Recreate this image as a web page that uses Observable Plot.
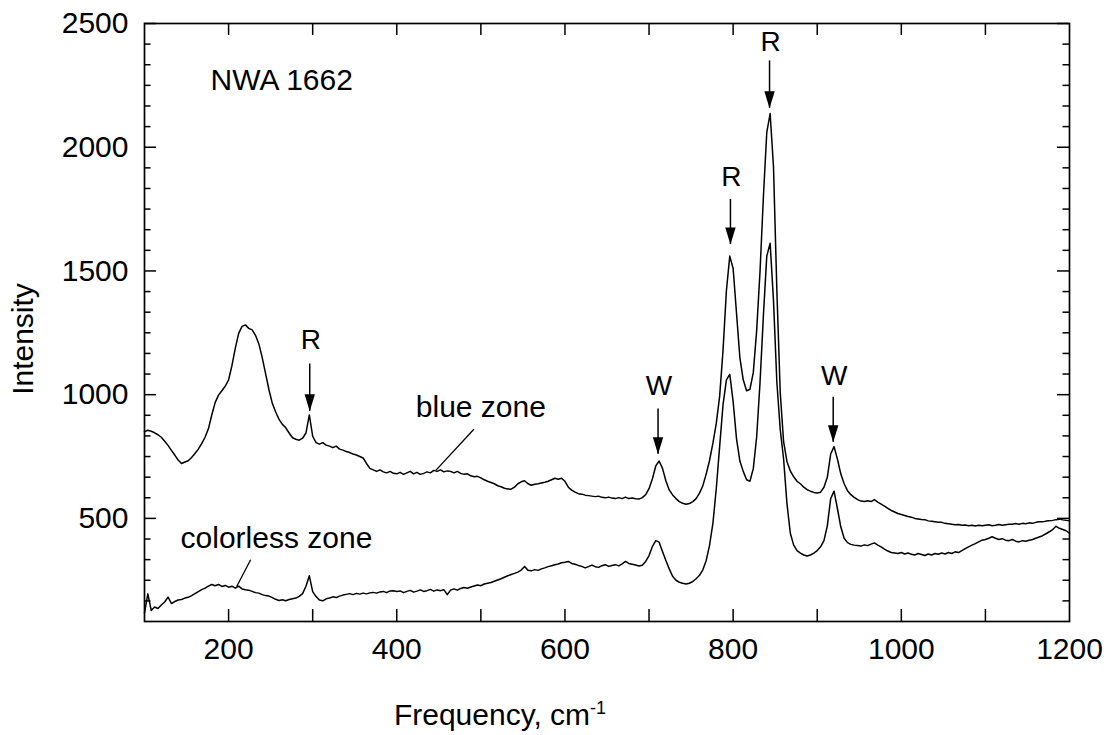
<!DOCTYPE html>
<html><head><meta charset="utf-8">
<script src="https://cdn.jsdelivr.net/npm/d3@7"></script>
<script src="https://cdn.jsdelivr.net/npm/@observablehq/plot@0.6"></script>
<style>body{margin:0;background:#fff}#chart{width:1115px;height:735px}</style>
</head><body><div id="chart"></div>
<script>
const freqStart = 100, freqEnd = 1200, freqStep = 4;
const blueZone = [
  850,856,852,846,838,828,812,795,775,756,736,722,728,733,746,762,780,802,828,862,918,968,998,1016,1034,
  1060,1118,1188,1248,1276,1282,1268,1262,1240,1205,1150,1085,1020,965,930,900,880,866,845,826,820,816,824,845,918,
  832,806,800,806,796,792,786,792,780,776,770,766,760,756,750,744,722,702,696,690,696,688,684,690,682,
  680,686,678,684,690,680,686,678,682,688,684,694,690,696,688,692,690,684,690,682,678,680,672,668,670,
  664,656,650,645,640,632,628,622,619,618,626,640,648,652,640,634,638,640,643,646,650,656,662,658,662,
  650,626,614,606,600,598,594,592,590,588,590,585,583,586,582,580,584,580,586,580,582,579,578,584,596,
  620,660,712,732,702,652,615,595,580,568,561,557,560,568,580,602,632,680,735,805,885,995,1180,1420,1560,
  1510,1330,1150,1060,1016,1022,1090,1260,1500,1800,2060,2136,1920,1420,1010,810,730,692,668,650,640,626,616,610,605,
  603,606,626,666,760,790,740,680,640,612,596,585,576,570,568,571,568,576,566,558,550,541,532,526,520,
  516,512,508,505,500,498,496,495,490,488,486,484,484,480,478,476,474,475,472,473,470,472,469,472,470,
  472,474,470,472,475,472,474,476,476,479,476,480,478,482,480,484,486,486,489,490,492,495,497,494,492,
  490
];
const colorlessZone = [
  118,195,128,142,136,150,162,182,156,164,170,172,178,181,188,196,204,212,218,226,233,228,233,225,229,
  222,226,218,226,215,212,210,205,200,198,192,188,186,180,173,168,171,167,172,175,178,185,196,226,268,
  204,184,170,167,175,178,183,180,186,190,193,196,192,197,194,198,195,199,201,198,203,205,200,207,208,
  205,207,200,205,209,202,206,211,205,208,213,206,211,208,212,192,210,215,210,217,221,218,223,227,231,
  228,235,238,241,246,251,256,262,268,273,278,283,291,306,290,288,293,290,296,300,305,309,313,316,321,
  323,326,318,315,310,306,300,305,311,305,302,309,313,306,310,313,308,316,326,318,315,312,308,311,326,
  350,386,410,404,366,330,296,266,250,242,238,235,238,245,256,270,292,330,392,482,622,792,960,1060,1082,
  972,822,732,690,656,650,702,830,1050,1320,1560,1612,1380,1050,860,740,560,440,392,370,360,352,348,352,360,
  370,385,410,470,580,610,540,466,420,402,395,392,390,388,393,390,396,401,392,385,376,368,362,360,358,
  362,356,360,355,352,358,354,350,356,352,358,355,360,356,362,358,365,362,370,378,385,392,398,405,412,
  415,420,426,420,415,418,412,410,415,408,405,410,408,412,415,420,425,430,438,446,455,468,460,455,450,
  440
];
const xTickLabels = [200, 400, 600, 800, 1000, 1200];
const xTickMarks = [200, 300, 400, 500, 600, 700, 800, 900, 1000, 1100];
const yTickLabels = [500, 1000, 1500, 2000, 2500];
const yDomain = [83.33, 2500];
const xDomain = [100, 1200];

// Peak annotations (frequency, arrow tip, arrow top, label baseline)
const peakLabels = ["R", "R", "R", "W", "W"];
const peakFreqs  = [296.5, 796.8, 843.3, 710.7, 919];
const peakTips   = [933, 1607, 2158, 759, 808];
const peakTops   = [1124, 1789, 2349, 942, 990];
const peakTextY  = [1185, 1842, 2389, 998, 1039];

const zoneLabels = ["blue zone", "colorless zone"];
const zoneTextX = [422.6, 142.9];
const zoneTextY = [909, 382];
const zoneLeaderFrom = [[491.7, 860], [226.2, 333]];
const zoneLeaderTo = [[446.4, 694], [209.5, 224]];
const sampleName = "NWA 1662";

// build tables
const freqs = d3.range(freqStart, freqEnd + 1, freqStep);
const blueData = freqs.map((f, i) => ({f, v: blueZone[i]}));
const colorlessData = freqs.map((f, i) => ({f, v: colorlessZone[i]}));
const peaks = peakLabels.map((label, i) => ({label, f: peakFreqs[i], tip: peakTips[i], top: peakTops[i], ty: peakTextY[i]}));
const zones = zoneLabels.map((label, i) => ({label, x: zoneTextX[i], y: zoneTextY[i],
  x1: zoneLeaderFrom[i][0], y1: zoneLeaderFrom[i][1], x2: zoneLeaderTo[i][0], y2: zoneLeaderTo[i][1]}));
const yMinor = d3.range(1, 30).filter(i => i % 6 !== 0).map(i => 2500 - i * 500 / 6).filter(v => v > yDomain[0] + 1);

const W = 1115, H = 735, mL = 144, mR = 46, mT = 23, mB = 114;
const innerH = H - mT - mB, innerW = W - mL - mR;

const arrowHead = {
  draw(ctx) { ctx.moveTo(0, 0); ctx.lineTo(-5.2, -17); ctx.lineTo(5.2, -17); ctx.closePath(); }
};

const font = "'Liberation Sans', Arial, Helvetica, sans-serif";
const ident = d => d;
const plain = d => String(d);

const chart = Plot.plot({
  width: W, height: H,
  marginLeft: mL, marginRight: mR, marginTop: mT, marginBottom: mB,
  x: {domain: xDomain, axis: null},
  y: {domain: yDomain, axis: null},
  style: {fontFamily: font, fontSize: "30px", color: "black", background: "white", overflow: "visible"},
  marks: [
    Plot.line(blueData, {x: "f", y: "v", stroke: "black", strokeWidth: 1.5}),
    Plot.line(colorlessData, {x: "f", y: "v", stroke: "black", strokeWidth: 1.5}),
    Plot.frame({stroke: "black", strokeWidth: 1.7}),
    // x ticks (bottom and top, inward)
    Plot.tickX(xTickMarks, {x: ident, insetTop: innerH - 12, stroke: "black", strokeWidth: 1.5}),
    Plot.tickX(xTickMarks, {x: ident, insetBottom: innerH - 12, stroke: "black", strokeWidth: 1.5}),
    // y ticks major and minor (left and right, inward)
    Plot.tickY(yTickLabels, {y: ident, insetRight: innerW - 12, stroke: "black", strokeWidth: 1.5}),
    Plot.tickY(yTickLabels, {y: ident, insetLeft: innerW - 12, stroke: "black", strokeWidth: 1.5}),
    Plot.tickY(yMinor, {y: ident, insetRight: innerW - 6.5, stroke: "black", strokeWidth: 1.5}),
    Plot.tickY(yMinor, {y: ident, insetLeft: innerW - 6.5, stroke: "black", strokeWidth: 1.5}),
    // tick labels
    Plot.text(xTickLabels, {x: ident, text: plain, frameAnchor: "bottom", dy: 16, lineAnchor: "top", fontSize: 30, fill: "black"}),
    Plot.text(yTickLabels, {y: ident, text: plain, frameAnchor: "left", dx: -16, textAnchor: "end", fontSize: 30, fill: "black"}),
    // peak arrows
    Plot.ruleX(peaks, {x: "f", y1: "tip", y2: "top", stroke: "black", strokeWidth: 1.5}),
    Plot.dot(peaks, {x: "f", y: "tip", symbol: arrowHead, fill: "black", stroke: "none"}),
    Plot.text(peaks, {x: "f", y: "ty", text: "label", lineAnchor: "bottom", fontSize: 28, fill: "black", dx: 1}),
    // zone labels with leader lines
    Plot.link(zones, {x1: "x1", y1: "y1", x2: "x2", y2: "y2", stroke: "black", strokeWidth: 1.3}),
    Plot.text(zones, {x: "x", y: "y", text: "label", textAnchor: "start", lineAnchor: "bottom", fontSize: 30, fill: "black"}),
    Plot.text([sampleName], {x: 178.6, y: 2231, text: ident, textAnchor: "start", lineAnchor: "bottom", fontSize: 30, fill: "black"})
  ]
});

// axis titles
const svg = d3.select(chart);
svg.append("text")
  .attr("transform", "translate(33,339) rotate(-90)")
  .attr("text-anchor", "middle")
  .attr("font-family", font).attr("font-size", 30).attr("fill", "black")
  .text("Intensity");
const xt = svg.append("text")
  .attr("x", 500).attr("y", 725)
  .attr("font-family", font).attr("font-size", 30).attr("fill", "black");
xt.append("tspan").text("Frequency, cm");
xt.append("tspan").attr("dy", -11).attr("font-size", 18).text("-1");

document.getElementById("chart").appendChild(chart);
</script>
</body></html>
